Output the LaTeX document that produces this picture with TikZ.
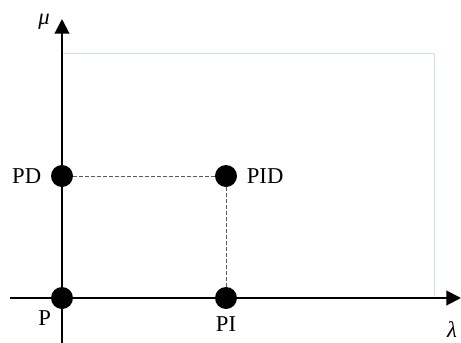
\documentclass[tikz,border=0pt]{standalone}
\usepackage{fontspec}
\setmainfont{Liberation Serif}
\usetikzlibrary{arrows.meta, positioning}

\begin{document}
\begin{tikzpicture}[x=0.75pt, y=-0.75pt, node distance=6pt,
    dot/.style={circle, fill=black, minimum size=16.5pt, inner sep=0pt},
    lab/.style={inner sep=1pt, font=\fontsize{17}{20}\selectfont},
    sym/.style={inner sep=1pt, font=\fontsize{17}{20}\selectfont\itshape},
    axis/.style={line width=1.5pt, -{Triangle[length=11pt, width=11pt]}},
    guide/.style={draw=black!65, line width=0.75pt, dash pattern=on 3pt off 1.5pt}]
    \useasboundingbox (0,0) rectangle (461,343);
    \draw [draw={rgb,255:red,200;green,225;blue,235}, line width=0.75pt] (62,53) rectangle (434,298);

    \coordinate (xs) at (10,298);
    \coordinate (xe) at (461,298);
    \coordinate (ys) at (62,343);
    \coordinate (ye) at (62,19);
    \draw [axis] (xs) -- (xe);
    \draw [axis] (ys) -- (ye);
    \node (mu) at (44,22) [sym] {μ};
    \node (lambda) at (452,330) [sym] {λ};

    \node (p) [dot] at (62,298) {};
    \node (pi) [dot] at (226,298) {};
    \node (pd) [dot] at (62,176) {};
    \node (pid) [dot] at (226,176) {};

    \draw [guide] (pd) -- (pid);
    \draw [guide] (pid) -- (pi);

    \node (pdl) [lab, left=of pd] {PD};
    \node (pidl) [lab, right=of pid] {PID};
    \node (pil) [lab, below=4pt of pi] {PI};
    \node (pl) [lab, below left=2pt and 1pt of p] {P};
\end{tikzpicture}
\end{document}
